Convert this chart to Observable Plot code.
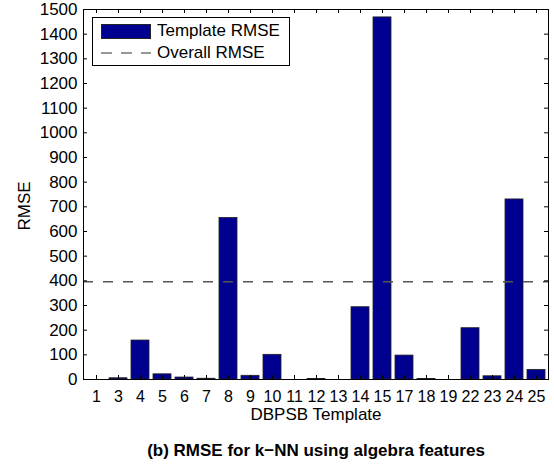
<!DOCTYPE html>
<html>
<head>
<meta charset="utf-8">
<script src="https://cdn.jsdelivr.net/npm/d3@7"></script>
<script src="https://cdn.jsdelivr.net/npm/@observablehq/plot@0.6"></script>
<style>
  html, body { margin: 0; padding: 0; background: white; }
  #wrap { position: relative; width: 554px; height: 469px; font-family: "Liberation Sans", Arial, Helvetica, sans-serif; }
  #legend { position: absolute; left: 92px; top: 17px; width: 196px; height: 47px; border: 1px solid black; background: white; font-size: 17px; }
  .row { position: absolute; left: 0; height: 20px; display: flex; align-items: center; }
  .sw { width: 50px; height: 15px; box-sizing: border-box; background: #000090; border: 1px solid #222; margin-left: 8px; }
  .ln { width: 50px; height: 4px; margin-left: 8px; }
  .lab { margin-left: 6px; white-space: nowrap; }
</style>
</head>
<body>
<div id="wrap"><div id="chart"></div>
  <div id="legend">
    <div class="row" style="top:3px"><div class="sw"></div><span class="lab" id="l1"></span></div>
    <div class="row" style="top:25px"><svg class="ln" width="50" height="4"><line x1="0" x2="50" y1="2" y2="2" stroke="#333" stroke-width="1.2" stroke-dasharray="11,9"></line></svg><span class="lab" id="l2"></span></div>
  </div>
</div>
<script>
const templates = ["1","3","4","5","6","7","8","9","10","11","12","13","14","15","17","18","19","22","23","24","25"];
const rmse = [0,5,158,21,8,3,655,15,100,0,2,0,293,1468,97,2,0,208,13,730,39];
const overallRMSE = 396;
const yTicks = [0,100,200,300,400,500,600,700,800,900,1000,1100,1200,1300,1400,1500];
const xLabel = "DBPSB Template";
const yLabel = "RMSE";
const title = "(b) RMSE for k\u2212NN using algebra features";
const legendLabels = ["Template RMSE", "Overall RMSE"];

const data = templates.map((t, i) => ({t, v: rmse[i]}));

const W = 554, H = 469, mL = 83, mR = 6, mT = 9, mB = 90;
const pw = W - mL - mR, ph = H - mT - mB;
const font = "'Liberation Sans', Arial, Helvetica, sans-serif";

const chart = Plot.plot({
  width: W, height: H,
  marginLeft: mL, marginRight: mR, marginTop: mT, marginBottom: mB,
  style: {fontFamily: font, fontSize: "17px", color: "black", background: "white", overflow: "visible"},
  x: {type: "band", domain: templates, paddingInner: 0.2, paddingOuter: 0, align: 0.5},
  y: {domain: [0, 1500], ticks: yTicks},
  marks: [
    Plot.barY(data, {x: "t", y: "v", fill: "#000090", stroke: "#222", strokeWidth: 0.8}),
    Plot.ruleY([overallRMSE], {stroke: "#555", strokeWidth: 1.5, strokeDasharray: "10,10"}),
    Plot.frame({stroke: "black", strokeWidth: 1}),
    Plot.tickY(yTicks, {y: d => d, insetRight: pw - 4, stroke: "black"}),
    Plot.tickY(yTicks, {y: d => d, insetLeft: pw - 4, stroke: "black"}),
    Plot.tickX(templates, {x: d => d, insetTop: ph - 4, stroke: "black"}),
    Plot.tickX(templates, {x: d => d, insetBottom: ph - 4, stroke: "black"}),
    Plot.axisY(yTicks, {tickSize: 0, tickPadding: 6, label: null, fontSize: 17, tickFormat: d3.format("d")}),
    Plot.axisX({tickSize: 0, tickPadding: 11, label: null, fontSize: 16}),
    Plot.text([xLabel], {frameAnchor: "bottom", dy: 40, text: d => d, fontSize: 17}),
    Plot.text([yLabel], {frameAnchor: "left", dx: -59, dy: 36, rotate: -90, text: d => d, fontSize: 17}),
    Plot.text([title], {frameAnchor: "bottom", dy: 76, text: d => d, fontSize: 17, fontWeight: "bold"})
  ]
});
document.getElementById("chart").appendChild(chart);
document.getElementById("l1").textContent = legendLabels[0];
document.getElementById("l2").textContent = legendLabels[1];
</script>
</body>
</html>
